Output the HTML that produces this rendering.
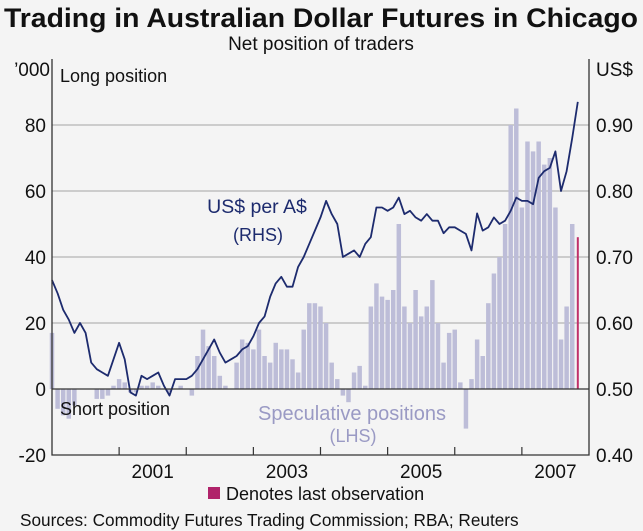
<!DOCTYPE html>
<html><head><meta charset="utf-8"><style>
body{margin:0;background:#f4f4f4;}
svg{display:block;font-family:"Liberation Sans",Arial,sans-serif;}
</style></head><body>
<svg id="chart" width="643" height="531" viewBox="0 0 643 531">
<rect width="643" height="531" fill="#f4f4f4"/>
<text x="321" y="27" text-anchor="middle" font-size="27" font-weight="bold" fill="#111" textLength="634" lengthAdjust="spacingAndGlyphs">Trading in Australian Dollar Futures in Chicago</text>
<text x="321" y="50" text-anchor="middle" font-size="19" fill="#111">Net position of traders</text>
<text x="50" y="76" text-anchor="end" font-size="19" fill="#111">’000</text>
<text x="596" y="76" font-size="19" fill="#111">US$</text>
<g id="grid"></g>
<g id="bars"></g>
<g id="line"></g>
<g id="axes"></g>
<text x="60" y="82" font-size="18" fill="#111">Long position</text>
<text x="60" y="415" font-size="18" fill="#111">Short position</text>
<text x="257" y="213" text-anchor="middle" font-size="19.5" fill="#1d2b6e">US$ per A$</text>
<text x="258" y="241" text-anchor="middle" font-size="18" fill="#1d2b6e">(RHS)</text>
<text x="352" y="420" text-anchor="middle" font-size="20" fill="#9a9ac4">Speculative positions</text>
<text x="353" y="442" text-anchor="middle" font-size="18" fill="#9a9ac4">(LHS)</text>
<rect x="208" y="487" width="12" height="12" fill="#b0236a"/>
<text x="226" y="500" font-size="18" fill="#111">Denotes last observation</text>
<text x="20" y="526" font-size="17.2" fill="#111">Sources: Commodity Futures Trading Commission; RBA; Reuters</text>
</svg>
<script>
const leftTicks=["-20","0","20","40","60","80"];
const leftTickValues=[-20,0,20,40,60,80];
const rightTicks=["0.40","0.50","0.60","0.70","0.80","0.90"];
const yearLabels=["2001","2003","2005","2007"];
const yearLabelValues=[2001,2003,2005,2007];
const price=[.665,.645,.62,.605,.585,.60,.585,.54,.53,.525,.52,.545,
.57,.545,.495,.49,.52,.515,.52,.525,.505,.49,.515,.515,
.515,.52,.53,.545,.56,.575,.555,.54,.545,.55,.56,.565,
.58,.60,.61,.64,.66,.67,.655,.655,.685,.70,.72,.74,
.76,.785,.765,.75,.70,.705,.71,.70,.72,.73,.775,.775,
.77,.775,.79,.765,.77,.76,.755,.765,.755,.755,.736,.745,
.745,.74,.735,.71,.766,.74,.745,.76,.75,.755,.77,.79,
.785,.785,.78,.82,.83,.835,.86,.80,.83,.88,.935];
const positions=[17,-6,-8,-9,-5,0,0,0,-3,-3,-2,1,
3,2,-1,-1,1,1,2,1,0,-1,0,1,
0,-2,10,18,13,10,4,1,0,8,15,14,
12,18,10,8,14,12,12,9,5,18,26,26,
25,20,8,3,-2,-4,5,7,1,25,32,28,
27,30,50,25,20,30,22,25,33,20,8,17,
18,2,-12,3,15,10,26,35,40,50,80,85,
55,75,72,75,68,70,55,15,25,50,46];
const startYear=2000;
const X0=52,X1=589,Y0=59,Y1=455;
function xs(t){return X0+(t-2000)/8*(X1-X0);}
function yl(v){return Y1-(v+20)/120*(Y1-Y0);}
function yr(p){return Y1-(p-0.4)/0.6*(Y1-Y0);}
const NS="http://www.w3.org/2000/svg";
function mk(tag,attrs,parent){const e=document.createElementNS(NS,tag);for(const k in attrs)e.setAttribute(k,attrs[k]);parent.appendChild(e);return e;}
const grid=document.getElementById('grid'),bars=document.getElementById('bars'),line=document.getElementById('line'),axes=document.getElementById('axes');
leftTickValues.forEach((v,i)=>{
 const y=yl(v);
 if(v!==0&&v!==-20){const g=mk('line',{x1:X0,x2:X1,y1:y,y2:y,stroke:'#b4b4b4','stroke-width':1.2},grid);
 
 }
 const t=mk('text',{x:46,y:y+7,'text-anchor':'end','font-size':19,fill:'#111'},axes);t.textContent=leftTicks[i];
 
 
 const r=mk('text',{x:596,y:y+7,'font-size':19,fill:'#111'},axes);r.textContent=rightTicks[i];
 
 
});
const bw=(X1-X0)/96;
positions.forEach((v,i)=>{
 const t=startYear+i/12;
 const last=i===positions.length-1;
 const x=xs(t);
 const y0=yl(0),y=yl(v);
 const b=mk('rect',{x:last?x-1:x-bw*0.4,y:Math.min(y0,y),width:last?2:bw*0.8,height:Math.abs(y-y0),fill:last?'#c0306a':'#bdbdd8'},bars);
 
 
});
let d='';
price.forEach((p,i)=>{d+=(i?'L':'M')+xs(startYear+i/12).toFixed(1)+','+yr(p).toFixed(1);});
const pl=mk('path',{d:d,fill:'none',stroke:'#1d2b6e','stroke-width':1.8,'stroke-linejoin':'round'},line);


const zl=mk('line',{x1:X0,x2:X1,y1:yl(0),y2:yl(0),stroke:'#333','stroke-width':1.3},axes);


const fr=mk('path',{d:`M${X0},${Y0}V${Y1}H${X1}V${Y0}`,fill:'none',stroke:'#333','stroke-width':1.3},axes);


for(let yr2=2001;yr2<=2007;yr2++){
 const tk=mk('line',{x1:xs(yr2),x2:xs(yr2),y1:Y1,y2:Y1-8,stroke:'#333','stroke-width':1.2},axes);
 
 
}
yearLabelValues.forEach((v,i)=>{
 const t=mk('text',{x:xs(v+0.5),y:478,'text-anchor':'middle','font-size':19,fill:'#111'},axes);t.textContent=yearLabels[i];
 
 
});
</script>
</body></html>
